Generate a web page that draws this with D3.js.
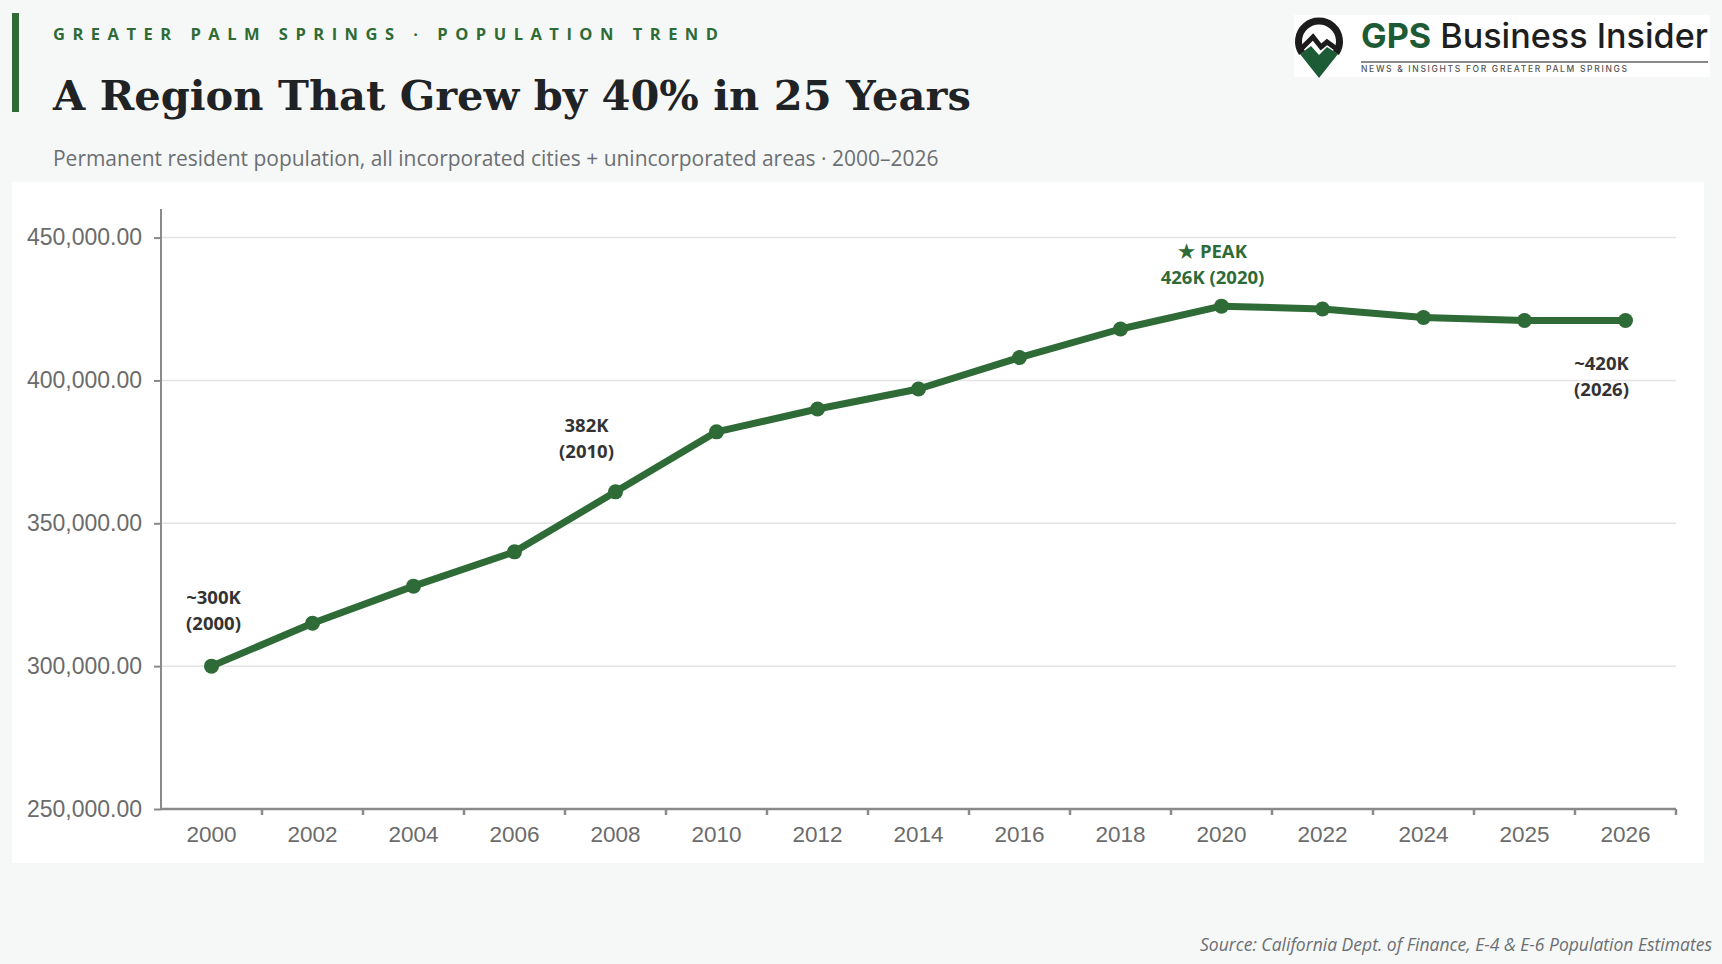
<!DOCTYPE html>
<html>
<head>
<meta charset="utf-8">
<script src="https://cdn.jsdelivr.net/npm/d3@7/dist/d3.min.js"></script>
<style>
  html, body { margin: 0; padding: 0; background: #f6f8f7; }
  svg { display: block; }
</style>
</head>
<body>
<svg id="chart" width="1722" height="964"></svg>
<script>
// ---- Data ----
const years = ["2000","2002","2004","2006","2008","2010","2012","2014","2016","2018","2020","2022","2024","2025","2026"];
const population = [300000,315000,328000,340000,361000,382000,390000,397000,408000,418000,426000,425000,422000,421000,421000];
const yTicks = [250000,300000,350000,400000,450000];
const annoYears = ["2000","2010","2020","2026"];
const annoLines = [["~300K","(2000)"],["382K","(2010)"],["\u2605 PEAK","426K (2020)"],["~420K","(2026)"]];

const kicker = "GREATER PALM SPRINGS \u00b7 POPULATION TREND";
const title = "A Region That Grew by 40% in 25 Years";
const subtitle = "Permanent resident population, all incorporated cities + unincorporated areas \u00b7 2000\u20132026";
const source = "Source: California Dept. of Finance, E-4 & E-6 Population Estimates";

// ---- Setup ----
const svg = d3.select("#chart");
const GREEN = "#2e6b36";
const W = 1722, H = 964;

svg.append("rect").attr("width", W).attr("height", H).attr("fill", "#f6f8f7");

function fitWidth(sel, target) {
  const len = sel.node().getComputedTextLength();
  const fs = parseFloat(sel.attr("font-size"));
  sel.attr("font-size", (fs * target / len).toFixed(2));
}

// left accent bar
svg.append("rect").attr("x", 12).attr("y", 13).attr("width", 7).attr("height", 99).attr("fill", GREEN);

// kicker
svg.append("text").attr("x", 53).attr("y", 40)
  .attr("font-family", "'Open Sans', sans-serif").attr("font-weight", 700)
  .attr("font-size", 16.5).attr("fill", GREEN)
  .attr("textLength", 665).attr("lengthAdjust", "spacing")
  .text(kicker);

// title
const tt = svg.append("text").attr("x", 53).attr("y", 110)
  .attr("font-family", "'DejaVu Serif', 'Liberation Serif', serif").attr("font-weight", 700)
  .attr("font-size", 42).attr("fill", "#1f2325")
  .text(title);
fitWidth(tt, 918);

// subtitle
const st = svg.append("text").attr("x", 53).attr("y", 166)
  .attr("font-family", "'Open Sans', sans-serif").attr("font-weight", 400)
  .attr("font-size", 19).attr("fill", "#6b6f73")
  .text(subtitle);
fitWidth(st, 886);

// ---- Logo ----
const logo = svg.append("g");
logo.append("rect").attr("x", 1294).attr("y", 15).attr("width", 416).attr("height", 62).attr("fill", "#ffffff");
const pin = logo.append("g").attr("transform", "translate(1319,41)");
pin.append("path")
  .attr("d", "M -17,12 A 20.5 20.5 0 1 1 17,12")
  .attr("fill", "none").attr("stroke", "#1c1c1c").attr("stroke-width", 7);
pin.append("path")
  .attr("d", "M -18,8 L -6,-4 L 2,6 L 8,1 L 19,9")
  .attr("fill", "none").attr("stroke", "#1c1c1c").attr("stroke-width", 5).attr("stroke-linejoin", "miter");
pin.append("path")
  .attr("d", "M -19,13 L -8,5 L 0,14 L 8,6 L 19,13 L 0,37 Z")
  .attr("fill", "#1d5a36");

const lt = logo.append("text").attr("x", 1361).attr("y", 48)
  .attr("font-family", "Inter, 'Open Sans', sans-serif").attr("font-size", 30);
lt.append("tspan").attr("font-weight", 700).attr("fill", "#1d5a36").text("GPS");
lt.append("tspan").attr("font-weight", 500).attr("fill", "#1e1e1e").text(" Business Insider");
fitWidth(lt, 347);

logo.append("line").attr("x1", 1361).attr("x2", 1708).attr("y1", 62).attr("y2", 62)
  .attr("stroke", "#8a8a8a").attr("stroke-width", 2);
logo.append("text").attr("x", 1361).attr("y", 72)
  .attr("font-family", "Inter, 'Open Sans', sans-serif").attr("font-size", 8.5).attr("font-weight", 500)
  .attr("fill", "#555").attr("textLength", 266).attr("lengthAdjust", "spacing")
  .text("NEWS & INSIGHTS FOR GREATER PALM SPRINGS");

// ---- Panel ----
svg.append("rect").attr("x", 12).attr("y", 182).attr("width", 1692).attr("height", 681).attr("fill", "#ffffff");

// ---- Scales ----
const plotL = 161, plotR = 1676, plotT = 209, plotB = 809;
const x = d3.scaleBand().domain(years).range([plotL, plotR]).padding(0);
const y = d3.scaleLinear().domain([250000, 460000]).range([plotB, plotT]);
const cx = d => x(d) + x.bandwidth() / 2;

// gridlines
svg.append("g").selectAll("line").data(yTicks.filter(v => v > 250000)).join("line")
  .attr("x1", plotL).attr("x2", plotR)
  .attr("y1", d => y(d)).attr("y2", d => y(d))
  .attr("stroke", "#e4e4e4").attr("stroke-width", 1.5);

// y axis
const yAxis = svg.append("g").attr("transform", `translate(${plotL},0)`)
  .call(d3.axisLeft(y).tickValues(yTicks).tickFormat(d3.format(",.2f")).tickSize(7).tickPadding(12));
yAxis.select(".domain").remove();
yAxis.append("line").attr("x1", 0).attr("x2", 0).attr("y1", plotT).attr("y2", plotB)
  .attr("stroke", "#8a8a8a").attr("stroke-width", 2);
yAxis.selectAll(".tick line").attr("stroke", "#8a8a8a").attr("stroke-width", 2);
yAxis.selectAll(".tick text")
  .attr("font-family", "'Liberation Sans', Arial, sans-serif").attr("font-size", 23)
  .attr("fill", "#6b6b6b");

// x axis
const xAxis = svg.append("g").attr("transform", `translate(0,${plotB})`)
  .call(d3.axisBottom(x).tickSize(0).tickPadding(17));
xAxis.select(".domain").remove();
xAxis.selectAll(".tick text")
  .attr("font-family", "'Liberation Sans', Arial, sans-serif").attr("font-size", 22.5)
  .attr("fill", "#6b6b6b");
const bounds = years.slice(1).map(d => x(d)).concat([x(years[years.length - 1]) + x.bandwidth()]);
xAxis.selectAll(".btick").data(bounds).join("line").attr("class", "btick")
  .attr("x1", d => d).attr("x2", d => d).attr("y1", 0).attr("y2", 6)
  .attr("stroke", "#8a8a8a").attr("stroke-width", 2.5);
xAxis.append("line").attr("x1", plotL).attr("x2", plotR).attr("y1", 0).attr("y2", 0)
  .attr("stroke", "#8a8a8a").attr("stroke-width", 2.5);

// ---- Line ----
const pts = years.map((d, i) => ({ year: d, value: population[i] }));
svg.append("path").datum(pts)
  .attr("d", d3.line().x(d => cx(d.year)).y(d => y(d.value)))
  .attr("fill", "none").attr("stroke", GREEN).attr("stroke-width", 7)
  .attr("stroke-linejoin", "round").attr("stroke-linecap", "round");
svg.append("g").selectAll("circle").data(pts).join("circle")
  .attr("cx", d => cx(d.year)).attr("cy", d => y(d.value)).attr("r", 7.5)
  .attr("fill", GREEN);

// ---- Annotations ----
const annoLayout = [
  { dx: 2, dy: -69 },
  { dx: -130, dy: -6 },
  { dx: -9, dy: -55 },
  { dx: -24, dy: 43 }
];
annoYears.forEach((yr, i) => {
  const v = population[years.indexOf(yr)];
  const px = cx(yr) + annoLayout[i].dx;
  const py = y(v) + annoLayout[i].dy;
  const isPeak = i === 2;
  annoLines[i].forEach((ln, j) => {
    svg.append("text").attr("x", px).attr("y", py + j * 26 + 6.5)
      .attr("text-anchor", "middle")
      .attr("font-family", "'Open Sans', sans-serif").attr("font-weight", 700)
      .attr("font-size", 18.5).attr("fill", isPeak ? GREEN : "#333333")
      .text(ln);
  });
});

// ---- Source ----
const src = svg.append("text").attr("x", 1712).attr("y", 951).attr("text-anchor", "end")
  .attr("font-family", "'Open Sans', sans-serif").attr("font-style", "italic")
  .attr("font-size", 17).attr("fill", "#6b6f73")
  .text(source);
fitWidth(src, 512);
</script>
</body>
</html>
